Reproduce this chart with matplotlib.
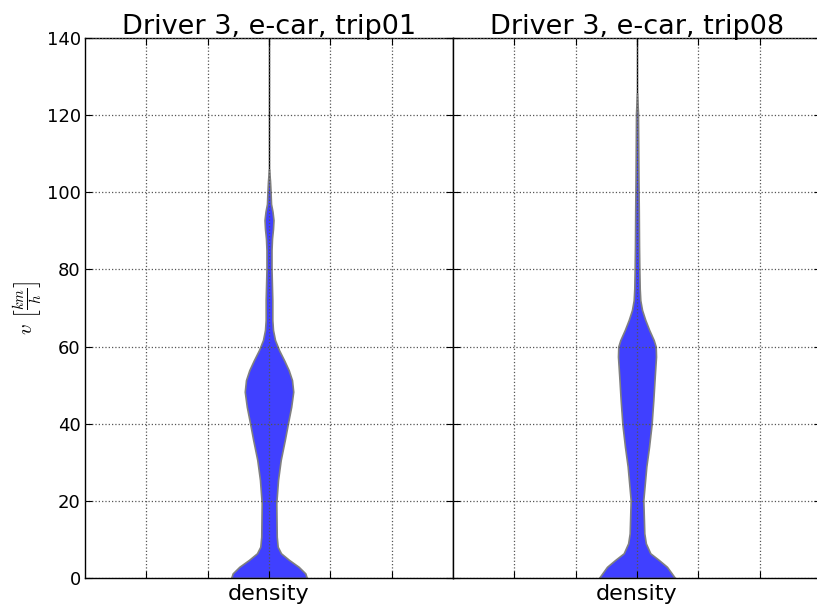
import matplotlib
matplotlib.use('Agg')
import matplotlib.pyplot as plt
import numpy as np

plt.rcParams['mathtext.fontset'] = 'cm'

# speed levels [km/h] and violin half widths (density, x units)
speed_trip01 = [0, 1.2, 2.9, 4.7, 6.4, 8.1, 10.7, 19.4, 25.4, 30.6, 35.8, 40.2,
                44.4, 48.3, 51.3, 53.9, 56.5, 59.1, 61.7, 64.3, 66.9, 72, 80, 85,
                88, 90.5, 92.8, 95, 97, 100.6, 103, 106]
width_trip01 = [0.617, 0.592, 0.484, 0.326, 0.196, 0.142, 0.126, 0.119, 0.147,
                0.191, 0.258, 0.310, 0.362, 0.395, 0.375, 0.321, 0.245, 0.163,
                0.098, 0.065, 0.054, 0.054, 0.041, 0.041, 0.049, 0.065, 0.073,
                0.057, 0.033, 0.024, 0.016, 0.0]

speed_trip08 = [0, 2.9, 4.7, 6.4, 9, 11.6, 20.2, 28.9, 34, 39.7, 46.1, 52.2,
                57.4, 60, 61.7, 64.3, 66.9, 69.5, 72, 75, 80, 86, 95, 103, 112,
                120.5, 125.7]
width_trip08 = [0.62, 0.489, 0.354, 0.217, 0.144, 0.119, 0.103, 0.152, 0.196,
                0.237, 0.266, 0.289, 0.31, 0.305, 0.272, 0.199, 0.135, 0.082,
                0.054, 0.044, 0.038, 0.033, 0.029, 0.024, 0.02, 0.016, 0.0]

titles = ['Driver 3, e-car, trip01', 'Driver 3, e-car, trip08']
speeds = [speed_trip01, speed_trip08]
widths = [width_trip01, width_trip08]

fig = plt.figure(figsize=(8.17, 6.07), dpi=100)
ax1 = fig.add_axes([85 / 817, 29 / 607, 368 / 817, 540 / 607])
ax2 = fig.add_axes([453 / 817, 29 / 607, 368 / 817, 540 / 607], sharey=ax1)

for ax, title, v, w in zip([ax1, ax2], titles, speeds, widths):
    v = np.array(v)
    w = np.array(w)
    ax.plot([0, 0], [0, 140], color='black', lw=1, zorder=1)
    ax.fill_betweenx(v, -w, w, facecolor='#4040ff', edgecolor='#808080',
                     lw=1.2, joinstyle='round', zorder=2)
    ax.set_xlim(-3, 3)
    ax.set_ylim(0, 140)
    ax.set_xticks([-2, -1, 0, 1, 2])
    ax.set_xticklabels(['', '', 'density', '', ''])
    ax.set_yticks(range(0, 141, 20))
    ax.set_axisbelow(False)
    ax.grid(True, linestyle=':', color='#555555', lw=0.9)
    ax.tick_params(direction='in', top=True, right=True, length=5,
                   labelsize=13, pad=3)
    ax.tick_params(axis='x', pad=4, labelsize=16)
    ax.set_title(title, fontsize=19.5, pad=3)
    for sp in ax.spines.values():
        sp.set_linewidth(1.0)

plt.setp(ax2.get_yticklabels(), visible=False)
ax1.set_ylabel(r'$v\ \left[\frac{km}{h}\right]$', fontsize=15, labelpad=2)

fig.savefig('out.png', dpi=100)
